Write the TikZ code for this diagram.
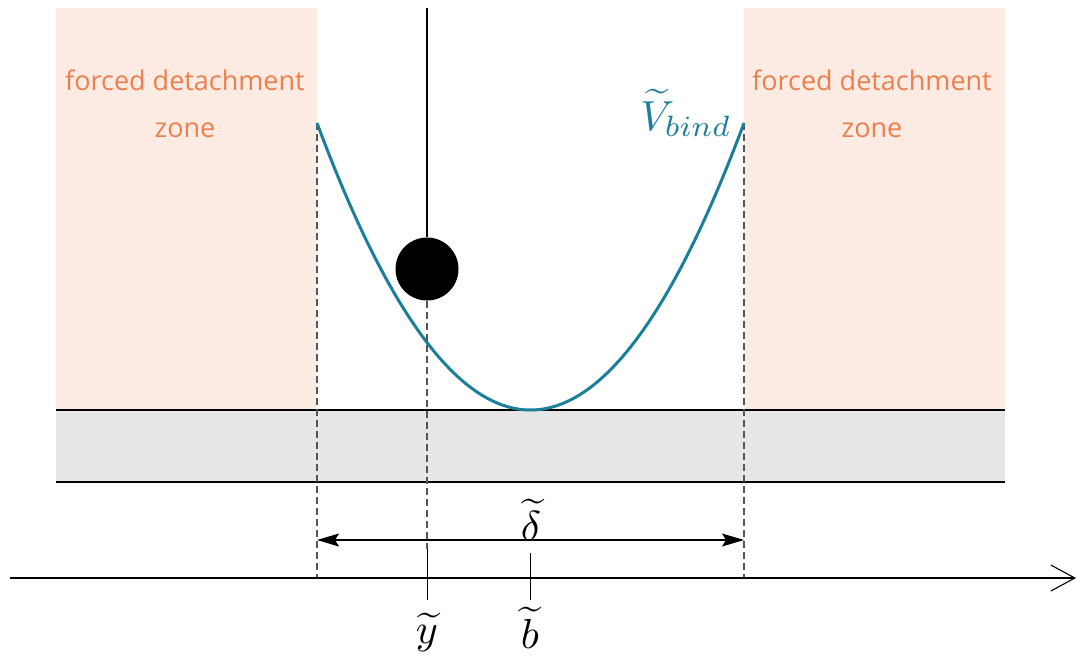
\documentclass[tikz,border=0pt]{standalone}
\usepackage{fontspec}
\setmainfont{Open Sans}
\usetikzlibrary{arrows.meta}
\definecolor{zonefill}{HTML}{FBEBE2}
\definecolor{zonetext}{HTML}{EC7F4F}
\definecolor{bandfill}{HTML}{E6E6E6}
\definecolor{curvecol}{HTML}{1B7F9B}
\definecolor{dashcol}{HTML}{555555}
\tikzset{
  zonebox/.style={fill=zonefill},
  zonelabel/.style={text=zonetext, font=\fontsize{13.5}{23.5}\selectfont, align=center},
  mathlabel/.style={scale=2.1, inner sep=0pt},
  guide/.style={dashcol, line width=0.55pt, dash pattern=on 3.5pt off 2pt},
  edge/.style={line width=1pt},
  tick/.style={line width=0.5pt},
  dimarrow/.style={line width=0.6pt, {Stealth[length=11pt,width=6.5pt,inset=2pt]}-{Stealth[length=11pt,width=6.5pt,inset=2pt]}}
}
\begin{document}
\begin{tikzpicture}[x=0.5pt,y=-0.5pt]
\useasboundingbox (0,0) rectangle (1080,655);
% zones
\fill[zonebox] (56,8) rectangle (317,410);
\fill[zonebox] (744,8) rectangle (1005,410);
\node[zonelabel] (lz) at (185,104) {forced detachment\\zone};
\node[zonelabel] (rz) at (872,104) {forced detachment\\zone};
% band
\fill[bandfill] (56,410) rectangle (1005,482);
\coordinate (bt1) at (56,410); \coordinate (bt2) at (1005,410);
\coordinate (bb1) at (56,482); \coordinate (bb2) at (1005,482);
\draw[edge] (bt1) -- (bt2);
\draw[edge] (bb1) -- (bb2);
% guides
\coordinate (gl1) at (317,123); \coordinate (gl2) at (317,578);
\coordinate (gr1) at (744,123); \coordinate (gr2) at (744,578);
\draw[guide] (gl1) -- (gl2);
\draw[guide] (gr1) -- (gr2);
% curve
\draw[curvecol, line width=1.5pt] plot[domain=317:744, samples=120] (\x, {410 - 287*((\x-530.5)/213.5)^2});
\node[mathlabel, text=curvecol] (vb) at (686,113) {$\widetilde{V}_{bind}$};
% pendulum
\node[circle, fill=black, minimum size=31.5pt, inner sep=0pt] (ball) at (427,269) {};
\coordinate (rtop) at (427,8);
\draw[edge] (rtop) -- (ball.north);
\coordinate (ymid) at (427,549); \coordinate (ybot) at (427,600);
\draw[guide] (ball.south) -- (ymid);
\draw[tick] (ymid) -- (ybot);
\coordinate (bmid) at (530,553); \coordinate (bbot) at (530,600);
\draw[tick] (bmid) -- (bbot);
% axis
\coordinate (ax1) at (10,578); \coordinate (ax2) at (1076,578);
\draw[line width=0.6pt, -{Straight Barb[length=12pt,width=13pt,line width=0.55pt]}] (ax1) -- (ax2);
% delta arrow
\coordinate (da1) at (317,540); \coordinate (da2) at (744,540);
\draw[dimarrow] (da1) -- (da2);
\node[mathlabel] (dl) at (531,520) {$\widetilde{\delta}$};
\node[mathlabel] (yl) at (427,632) {$\widetilde{y}$};
\node[mathlabel] (bl) at (530,628) {$\widetilde{b}$};
\end{tikzpicture}
\end{document}
